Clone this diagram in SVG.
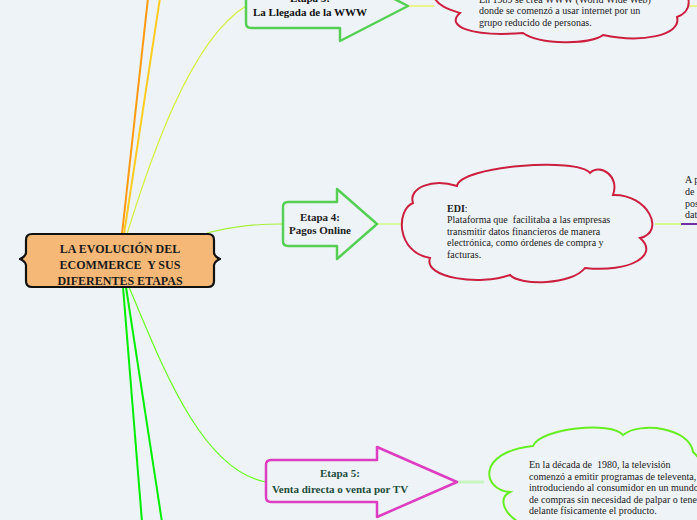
<svg xmlns="http://www.w3.org/2000/svg" width="697" height="520" viewBox="0 0 697 520">
<style>
.bg{fill:#eef3f8}
.etapa{fill:#eef3f8;stroke:#55d055;stroke-width:2.5;stroke-linejoin:round}
.etapa5{fill:#eef3f8;stroke:#dd3dc0;stroke-width:2.5;stroke-linejoin:round}
.cloudr{fill:#eef3f8;stroke:#cc1f3f;stroke-width:2}
.cloudg{fill:#eef3f8;stroke:#66ee22;stroke-width:2}
.lbl{font-family:"Liberation Serif","Times New Roman",serif;font-weight:bold;font-size:11px;text-anchor:middle}
.body{font-family:"Liberation Serif","Times New Roman",serif;font-size:10px;fill:#222}
.main{font-family:"Liberation Serif","Times New Roman",serif;font-weight:bold;font-size:12px;text-anchor:middle;fill:#1a1a1a}
.conn{fill:none}
</style>
<rect class="bg" x="0" y="0" width="697" height="520"/>
<g id="connectors">
<path class="conn" d="M122,234 L148,-2" stroke="#ff9a10" stroke-width="2"/>
<path class="conn" d="M124,234 L160,-2" stroke="#ffcc22" stroke-width="2"/>
<path class="conn" d="M127,234 C150,160 190,40 246,6" stroke="#d4f03c" stroke-width="1.2"/>
<path class="conn" d="M207,233 C235,226 255,224 283,224" stroke="#a8f03c" stroke-width="1.2"/>
<path class="conn" d="M123,287 L142,522" stroke="#00ee00" stroke-width="2"/>
<path class="conn" d="M126,287 L162,522" stroke="#00ee00" stroke-width="2"/>
<path class="conn" d="M129,287 C160,360 200,470 266,482" stroke="#66ff22" stroke-width="1.2"/>
<path class="conn" d="M408,6 L434,6" stroke="#e6f542" stroke-width="1.2"/>
<path class="conn" d="M687,6 L697,6" stroke="#e6f542" stroke-width="1.2"/>
<path class="conn" d="M377,224 L404,224" stroke="#ccff66" stroke-width="1.2"/>
<path class="conn" d="M655,224 L681,224" stroke="#ccff66" stroke-width="1.5"/>
<path class="conn" d="M681,224 L697,224" stroke="#7030a0" stroke-width="2"/>
<path class="conn" d="M457,482 L484,482" stroke="#c8f5c0" stroke-width="3"/>
</g>
<g id="central">
<path d="M32,234 L208,234 Q214,234 214,240 L214,253 Q215,257 220,259 Q215,261 214,265 L214,281 Q214,287 208,287 L32,287 Q26,287 26,281 L26,265 Q25,261 20,259 Q25,257 26,253 L26,240 Q26,234 32,234 Z" fill="#f6b877" stroke="#111" stroke-width="2.2" stroke-linejoin="round"/>
<text class="main" x="120" y="253">LA EVOLUCIÓN DEL</text>
<text class="main" x="120" y="269" xml:space="preserve">ECOMMERCE  Y SUS</text>
<text class="main" x="120" y="285">DIFERENTES ETAPAS</text>
</g>
<g id="etapa3">
<path class="etapa" d="M340,-29 L408,6 L340,41 L340,28 L251,28 Q246,28 246,23 L246,-12 L340,-12 Z"/>
<text class="lbl" x="310" y="2" fill="#111">Etapa 3:</text>
<text class="lbl" x="310" y="16" fill="#111">La Llegada de la WWW</text>
</g>
<g id="cloud3">
<path class="cloudr" d="M433,-6 C436,6 450,10 460,13 C445,26 470,37 523,33 C540,45 590,45 603,35 C640,43 682,36 677,17 C690,12 690,2 687,-6 Z"/>
<text class="body" x="479" y="3">En 1989 se crea WWW (World Wide Web)</text>
<text class="body" x="479" y="14">donde se comenzó a usar internet por un</text>
<text class="body" x="479" y="26">grupo reducido de personas.</text>
</g>
<g id="etapa4">
<path class="etapa" d="M337,189 L377,224 L337,259 L337,246 L288,246 Q283,246 283,241 L283,207 Q283,202 288,202 L337,202 Z"/>
<text class="lbl" x="320" y="221" fill="#222">Etapa 4:</text>
<text class="lbl" x="320" y="234" fill="#222">Pagos Online</text>
</g>
<g id="cloud4">
<path class="cloudr" d="M413,203 C408,188 432,178 457,186 C460,166 578,157 590,173 C600,163 620,176 613,195 C648,194 666,232 640,238 C660,255 630,273 585,268 C572,285 520,286 510,275 C480,286 423,278 430,258 C396,252 396,210 413,203 Z"/>
<text class="body" x="447" y="212"><tspan font-weight="bold">EDI</tspan>:</text>
<text class="body" x="447" y="223" xml:space="preserve">Plataforma que  facilitaba a las empresas</text>
<text class="body" x="447" y="235">transmitir datos financieros de manera</text>
<text class="body" x="447" y="246">electrónica, como órdenes de compra y</text>
<text class="body" x="447" y="258">facturas.</text>
</g>
<g id="note4">
<text class="body" x="685" y="183">A p</text>
<text class="body" x="685" y="195">de</text>
<text class="body" x="685" y="207">pos</text>
<text class="body" x="685" y="218">dat</text>
</g>
<g id="etapa5">
<path class="etapa5" d="M377,447 L457,482 L377,517 L377,502 L271,502 Q266,502 266,497 L266,465 Q266,460 271,460 L377,460 Z"/>
<text class="lbl" x="340" y="477" fill="#1e4d3b">Etapa 5:</text>
<text class="lbl" x="340" y="493" fill="#1e4d3b">Venta directa o venta por TV</text>
</g>
<g id="cloud5">
<path class="cloudg" d="M522,524 C503,514 498,498 510,492 C482,490 476,452 533,446 C540,428 612,421 623,435 C640,421 690,428 693,452 C702,460 706,470 706,482 L706,524 Z"/>
<text class="body" x="529" y="468" xml:space="preserve">En la década de  1980, la televisión</text>
<text class="body" x="529" y="480">comenzó a emitir programas de televenta,</text>
<text class="body" x="529" y="491">introduciendo al consumidor en un mundo</text>
<text class="body" x="529" y="503">de compras sin necesidad de palpar o tener</text>
<text class="body" x="529" y="514">delante físicamente el producto.</text>
</g>
</svg>
